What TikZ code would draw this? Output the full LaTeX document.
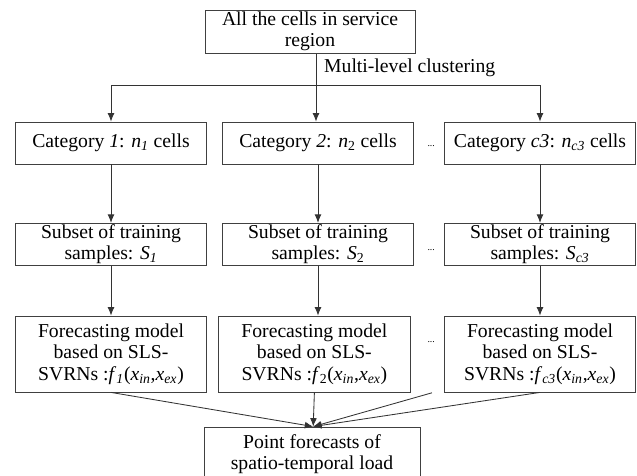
\documentclass[tikz,border=0pt]{standalone}
\usepackage{fontspec}
\setmainfont{Liberation Serif}
\usetikzlibrary{arrows.meta,calc,positioning}
\newcommand{\itsub}[2]{\textit{#1}\textsubscript{\textit{#2}}}
\newcommand{\upsub}[2]{\textit{#1}\textsubscript{#2}}

\begin{document}
\begin{tikzpicture}[
  every node/.style={font=\fontsize{14}{15.2}\selectfont},
  box/.style={draw=black!75, line width=0.6pt, minimum width=4.78cm, align=center, inner sep=1pt},
  flow/.style={-{Latex[length=2.1mm,width=1.7mm]}, draw=black!80, line width=0.6pt},
  dots/.style={font=\scriptsize, inner sep=0pt}]
\useasboundingbox (0,0) rectangle (15.925,11.9);

% Insieme di partenza
\node[box, minimum width=5.25cm, minimum height=1.075cm] (cells) at (7.75,11.11) {All the cells in service\\region};

% Categorie dopo il clustering
\node[box, minimum height=1.05cm] (cat1) at (2.775,8.325) {Category \textit{1}: \itsub{n}{1} cells};
\node[box, minimum height=1.05cm] (cat2) at (7.95,8.325)  {Category \textit{2}: \upsub{n}{2} cells};
\node[box, minimum height=1.05cm] (cat3) at (13.5,8.325)  {Category \textit{c3}: \itsub{n}{c3} cells};
\node[dots] (dcat) at (10.78,8.25) {...};

\coordinate (split) at (7.9,9.775);
\draw[flow] (cells.south -| split) -- (split |- cat2.north);
\draw[flow] (split) -| (cat1.north);
\draw[flow] (split) -| (cat3.north);
\node[anchor=west] (mlc) at (7.98,10.2) {Multi-level clustering};

% Sottoinsiemi di addestramento
\node[box, minimum height=1.025cm] (sub1) at (2.775,5.79) {Subset of training\\samples: \itsub{S}{1}};
\node[box, minimum height=1.025cm] (sub2) at (7.95,5.79)  {Subset of training\\samples: \upsub{S}{2}};
\node[box, minimum height=1.025cm] (sub3) at (13.5,5.79)  {Subset of training\\samples: \itsub{S}{c3}};
\node[dots] (dsub) at (10.78,5.64) {...};

\draw[flow] (cat1) -- (sub1);
\draw[flow] (cat2) -- (sub2);
\draw[flow] (cat3) -- (sub3);

% Modelli SLS-SVRN
\node[box, minimum height=1.9cm] (fc1) at (2.775,3.05) {Forecasting model\\based on SLS-\\SVRNs :\itsub{f}{1}(\itsub{x}{in},\itsub{x}{ex})};
\node[box, minimum height=1.9cm] (fc2) at (7.86,3.05)  {Forecasting model\\based on SLS-\\SVRNs :\upsub{f}{2}(\itsub{x}{in},\itsub{x}{ex})};
\node[box, minimum height=1.9cm] (fc3) at (13.5,3.05)  {Forecasting model\\based on SLS-\\SVRNs :\itsub{f}{c3}(\itsub{x}{in},\itsub{x}{ex})};
\node[dots] (dfc) at (10.78,3.35) {...};

\draw[flow] (sub1) -- (fc1);
\draw[flow] (sub2.south) -- (sub2.south |- fc2.north);
\draw[flow] (sub3) -- (fc3);

% Previsione finale
\node[box, minimum width=5.4cm, minimum height=1.35cm] (final) at (7.8,0.55) {Point forecasts of\\spatio-temporal load};
\coordinate (join) at ($(final.north)+(0.03,0)$);
\coordinate (fcmore) at (10.8,2.08);

\draw[flow] (fc1.south) -- (join);
\draw[flow] (fc2.south) -- (join);
\draw[flow] (fcmore) -- (join);
\draw[flow] (fc3.south) -- (join);

\end{tikzpicture}
\end{document}
